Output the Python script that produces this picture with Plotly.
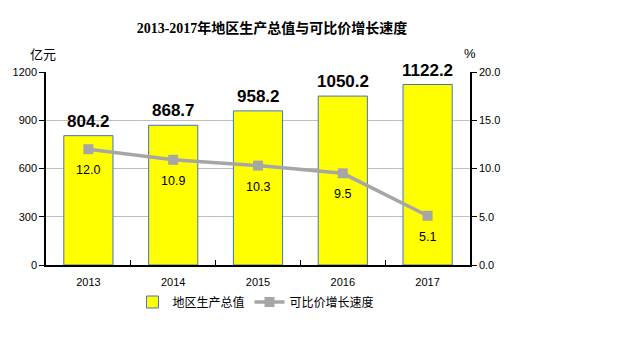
import plotly.graph_objects as go

years = ["2013", "2014", "2015", "2016", "2017"]
gdp = [804.2, 868.7, 958.2, 1050.2, 1122.2]
growth = [12.0, 10.9, 10.3, 9.5, 5.1]
left_ticks = [0, 300, 600, 900, 1200]
right_ticks = [0, 5, 10, 15, 20]

W, H = 619, 338
L, R, T, B = 46, 149, 72, 73


def px(xp, yp):
    return (xp - L) / (W - L - R), (H - B - yp) / (H - T - B)


fig = go.Figure()
fig.add_trace(go.Bar(
    x=years, y=gdp, name="地区生产总值", width=0.58,
    marker=dict(color="#FFFF00", line=dict(color="#4472C4", width=1)),
    hoverinfo="skip",
))
fig.add_trace(go.Scatter(
    x=years, y=growth, name="可比价增长速度", yaxis="y2",
    mode="lines+markers",
    line=dict(color="#A6A6A6", width=3.5),
    marker=dict(symbol="square", size=10, color="#A6A6A6"),
))

annotations = []
# category axes: annotation x given as category index
for i, v in enumerate(gdp):
    annotations.append(dict(x=i, y=v, xref="x", yref="y", text=f"<b>{v:.1f}</b>",
                            showarrow=False, yanchor="bottom", yshift=3,
                            font=dict(size=17, color="#000000", family="Liberation Sans")))
for i, v in enumerate(growth):
    annotations.append(dict(x=i, y=v, xref="x", yref="y2", text=f"{v:.1f}",
                            showarrow=False, yanchor="middle", yshift=-21,
                            font=dict(size=12.5, color="#000000", family="Liberation Sans")))
ax, ay = px(43, 53)
annotations.append(dict(x=ax, y=ay, xref="paper", yref="paper", text="亿元", showarrow=False,
                        xanchor="center", yanchor="middle",
                        font=dict(size=13, color="#000000", family="Noto Sans CJK SC")))
pcx, pcy = px(470, 53)
annotations.append(dict(x=pcx, y=pcy, xref="paper", yref="paper", text="%", showarrow=False,
                        xanchor="center", yanchor="middle",
                        font=dict(size=13, color="#000000", family="Liberation Sans")))

lx, ly = px(256, 302)

fig.update_layout(
    width=W, height=H,
    margin=dict(l=L, r=R, t=T, b=B),
    paper_bgcolor="white", plot_bgcolor="white",
    annotations=annotations,
    title=dict(text="<b>2013-2017年地区生产总值与可比价增长速度</b>",
               x=272 / W, xanchor="center", y=1 - 28 / H, yanchor="middle",
               font=dict(size=14, color="#000000", family="Liberation Serif, Noto Sans CJK SC")),
    font=dict(family="Liberation Sans, Noto Sans CJK SC", size=11, color="#000000"),
    showlegend=True,
    legend=dict(orientation="h", x=lx, xanchor="center", y=ly, yanchor="middle",
                font=dict(size=12, family="Noto Sans CJK SC", color="#000000"),
                itemwidth=30, tracegroupgap=0),
    xaxis=dict(type="category", range=[-0.5, len(years) - 0.5], showline=True,
               linecolor="#000000", linewidth=1.5,
               ticks="inside", ticklen=5, tickcolor="#000000", tickson="boundaries",
               ticklabelstandoff=6,
               showgrid=False, tickfont=dict(size=11)),
    yaxis=dict(range=[0, 1200], tickvals=left_ticks, showline=True, linecolor="#000000",
               linewidth=1.5, ticks="outside", ticklen=5, tickcolor="#000000",
               showgrid=True, gridcolor="#BFBFBF", gridwidth=1, zeroline=False,
               tickfont=dict(size=11)),
    yaxis2=dict(range=[0, 20], tickvals=right_ticks, ticktext=[f"{t:.1f}" for t in right_ticks],
                overlaying="y", side="right", showline=True, linecolor="#000000",
                linewidth=1.5, ticks="outside", ticklen=5, tickcolor="#000000",
                showgrid=False, zeroline=False, tickfont=dict(size=11)),
)

fig.write_html("out.html")
